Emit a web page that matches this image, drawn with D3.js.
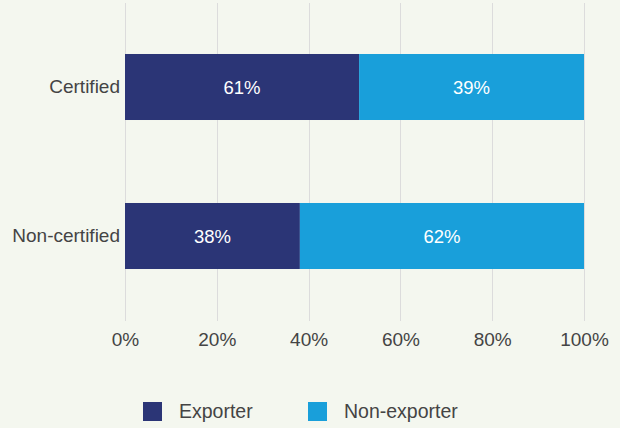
<!DOCTYPE html>
<html><head><meta charset="utf-8">
<script src="https://cdn.jsdelivr.net/npm/d3@7"></script>
<style>
html,body{margin:0;padding:0;background:#f4f7ef;}
svg{display:block;font-family:"Liberation Sans",Arial,Helvetica,sans-serif;}
</style></head>
<body>
<script>
const categories = ["Certified", "Non-certified"];
const seriesNames = ["Exporter", "Non-exporter"];
const exporterValues = [51, 38.1];
const nonExporterValues = [49, 61.9];
const exporterLabels = ["61%", "38%"];
const nonExporterLabels = ["39%", "62%"];
const xTicks = [0, 20, 40, 60, 80, 100];
const colors = ["#2b3576", "#199fda"];

const W = 620, H = 428;
const FONT = "Liberation Sans, Arial, sans-serif";
const svg = d3.select("body").append("svg").attr("width", W).attr("height", H);
svg.append("rect").attr("width", W).attr("height", H).attr("fill", "#f4f7ef");

const x = d3.scaleLinear().domain([0, 100]).range([125, 584]);
const y = d3.scaleBand().domain(categories).range([12.5, 310.5]).paddingInner(0.557).paddingOuter(0.2785);

// gridlines
svg.append("g").selectAll("line").data(xTicks).join("line")
  .attr("x1", d => Math.round(x(d)) + 0.5).attr("x2", d => Math.round(x(d)) + 0.5)
  .attr("y1", 3).attr("y2", 321)
  .attr("stroke", "#dcdcdc").attr("stroke-width", 1);

// x axis labels
const xAxis = d3.axisBottom(x).tickValues(xTicks).tickFormat(d => d + "%").tickSize(0).tickPadding(0);
const gx = svg.append("g").attr("transform", "translate(0,346)").call(xAxis);
gx.select(".domain").remove();
gx.selectAll("text").attr("font-size", 19).attr("fill", "#444").attr("y", 0).attr("dy", 0).attr("font-family", FONT);

// y axis labels
const yAxis = d3.axisLeft(y).tickSize(0).tickPadding(0);
const gy = svg.append("g").attr("transform", "translate(120,0)").call(yAxis);
gy.select(".domain").remove();
gy.selectAll("text").attr("font-size", 19).attr("fill", "#444").attr("dy", 6).attr("font-family", FONT);

const rows = categories.map((c, i) => ({
  cat: c,
  segs: [
    {start: 0, end: exporterValues[i], label: exporterLabels[i], color: colors[0]},
    {start: exporterValues[i], end: exporterValues[i] + nonExporterValues[i], label: nonExporterLabels[i], color: colors[1]}
  ]
}));

const g = svg.append("g");
rows.forEach(r => {
  r.segs.forEach(s => {
    g.append("rect")
      .attr("x", x(s.start)).attr("width", x(s.end) - x(s.start))
      .attr("y", y(r.cat)).attr("height", y.bandwidth())
      .attr("fill", s.color);
    g.append("text")
      .attr("x", (x(s.start) + x(s.end)) / 2)
      .attr("y", y(r.cat) + y.bandwidth() / 2 + 6.5)
      .attr("text-anchor", "middle")
      .attr("font-size", 18.5).attr("fill", "#ffffff")
      .text(s.label);
  });
});

// legend
const legendX = [143, 308];
const lg = svg.append("g");
seriesNames.forEach((n, i) => {
  lg.append("rect").attr("x", legendX[i]).attr("y", 402).attr("width", 19).attr("height", 19).attr("fill", colors[i]);
  lg.append("text").attr("x", legendX[i] + 36).attr("y", 417.5)
    .attr("font-size", 19.5).attr("fill", "#444").text(n);
});
</script>
</body></html>
